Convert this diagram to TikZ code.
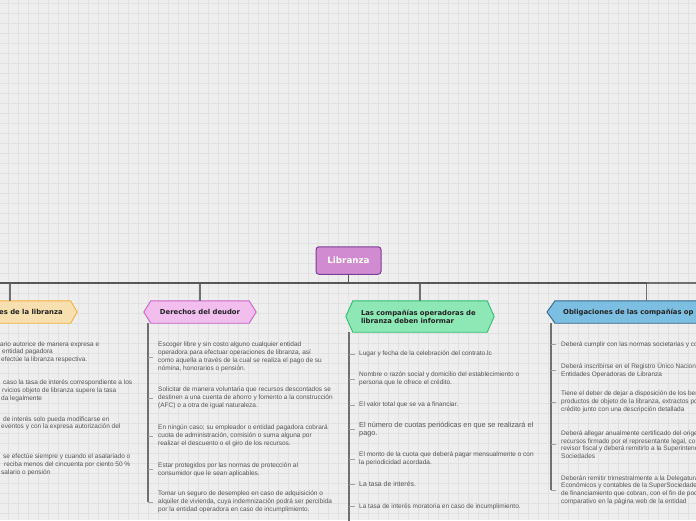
\documentclass[tikz,border=0pt]{standalone}
\usepackage{fontspec}
\setmainfont{Liberation Sans}
\newfontfamily\ttlfont{DejaVu Sans}
\usetikzlibrary{backgrounds}
\definecolor{bgc}{HTML}{EEEEEE}
\definecolor{gridc}{HTML}{E1E1E1}
\definecolor{txt}{HTML}{555555}
\definecolor{ttl}{HTML}{222222}
\definecolor{linec}{HTML}{585858}
\definecolor{branchc}{HTML}{707070}
\definecolor{tickc}{HTML}{A0A0A0}
\definecolor{libfill}{HTML}{D18BD0}
\definecolor{libdraw}{HTML}{7A3D97}
\definecolor{orfill}{HTML}{F8DFB0}
\definecolor{ordraw}{HTML}{F2B33D}
\definecolor{pkfill}{HTML}{F1BEEE}
\definecolor{pkdraw}{HTML}{C865C6}
\definecolor{gnfill}{HTML}{8EE8B6}
\definecolor{gndraw}{HTML}{2DBE6E}
\definecolor{blfill}{HTML}{7DBFE2}
\definecolor{bldraw}{HTML}{33668C}
\newcommand\hexfill[5]{%
  \begin{scope}[on background layer]
    \filldraw[fill=#2,draw=#3,line width=0.9pt]
      (#1.west) -- ([xshift=#4]#1.north west) -- ([xshift=-#5]#1.north east)
      -- (#1.east) -- ([xshift=-#5]#1.south east) -- ([xshift=#4]#1.south west) -- cycle;
  \end{scope}}
\begin{document}
\begin{tikzpicture}[x=1pt,y=-1pt,
  item/.style={font=\fontsize{6.5}{7.8}\selectfont, text=txt, align=left, anchor=west, inner sep=0pt},
  ttltext/.style={font=\ttlfont\bfseries\fontsize{6.85}{8}\selectfont, text=ttl},
  hexnode/.style={minimum height=22pt, inner sep=0pt, ttltext},
  mainline/.style={draw=linec, line width=1.8pt},
  branch/.style={draw=branchc, line width=1.5pt},
  bracket/.style={draw=branchc, line width=1.6pt},
  tickl/.style={draw=tickc, line width=0.9pt}]
\useasboundingbox (0,0) rectangle (696,520);
\begin{scope}[on background layer]
  \fill[bgc] (0,0) rectangle (696,520);
  \foreach \x in {8,18,...,698} \draw[gridc,line width=0.8pt] (\x,0) -- (\x,520);
  \foreach \y in {3,13,...,523} \draw[gridc,line width=0.8pt] (0,\y) -- (696,\y);
\end{scope}
\clip (0,0) rectangle (696,520);

% central node
\node[draw=libdraw, fill=libfill, line width=1pt, rounded corners=3pt,
      minimum width=65pt, minimum height=27.5pt, inner sep=0pt, text=white,
      font=\ttlfont\bfseries\fontsize{8.75}{10}\selectfont] (lib) at (348.5,260.5) {Libranza};

% branch boxes
\node[hexnode, minimum width=134pt] (cond) at (10,312) {};
\node[ttltext, anchor=west, inner sep=0pt] (condt) at (-1,312) {es de la libranza};
\hexfill{cond}{orfill}{ordraw}{7pt}{6.5pt}

\node[hexnode, minimum width=112pt] (deudor) at (200,312) {Derechos del deudor};
\hexfill{deudor}{pkfill}{pkdraw}{7pt}{7pt}

\node[hexnode, minimum height=31pt, text width=118pt, align=left, inner xsep=15pt]
  (inform) at (420,316.5) {Las compañías operadoras de\\libranza deben informar};
\hexfill{inform}{gnfill}{gndraw}{7pt}{7pt}

\node[hexnode, anchor=west, text width=188pt, align=left, inner xsep=16pt]
  (oblig) at (547,312) {Obligaciones de las compañías op};
\hexfill{oblig}{blfill}{bldraw}{8pt}{8pt}

% main connectors
\coordinate (hl) at (0,283);
\coordinate (hr) at (646.5,283);
\coordinate (hrr) at (696,283);
\draw[branch] (cond.north |- hl) -- (cond.north);
\draw[branch] (deudor.north |- hl) -- (deudor.north);
\draw[branch] (inform.north |- hl) -- (inform.north);
\draw[branch] (hr) -- (oblig.north -| hr);
\draw[draw=branchc, line width=1.5pt] (hr) -- (hrr);
\draw[mainline] (hl) -- (hr);
\draw[mainline] (lib.south) -- (lib.south |- hl);

% column 1
\node[item] (c1) at (0,352.3) {ario autorice de manera expresa e\\\hspace*{2pt}entidad pagadora\\\hspace*{1pt}efectúe la libranza respectiva.};
\node[item] (c2) at (0,390.7) {\hspace*{3pt}caso la tasa de interés correspondiente a los\\\hspace*{2pt}rvicios objeto de libranza supere la tasa\\\hspace*{1pt}da legalmente};
\node[item] (c3) at (0,423.3) {\hspace*{3pt}de interés solo pueda modificarse en\\\hspace*{1pt}eventos y con la expresa autorización del};
\node[item] (c4) at (0,465) {\hspace*{3pt}se efectúe siempre y cuando el asalariado o\\\hspace*{4pt}reciba menos del cincuenta por ciento 50 \%\\\hspace*{1pt}salario o pensión};

% column 2
\coordinate (b2) at (148,0);
\node[item] (d1) at (158,357) {Escoger libre y sin costo alguno cualquier entidad\\operadora para efectuar operaciones de libranza, así\\como aquella a través de la cual se realiza el pago de su\\nómina, honorarios o pensión.};
\node[item] (d2) at (158,398) {Solicitar de manera voluntaria que recursos descontados se\\destinen a una cuenta de ahorro y fomento a la construcción\\(AFC) o a otra de igual naturaleza.};
\node[item] (d3) at (158,436) {En ningún caso; su empleador o entidad pagadora cobrará\\cuota de administración, comisión o suma alguna por\\realizar el descuento o el giro de los recursos.};
\node[item] (d4) at (158,469.5) {Estar protegidos por las normas de protección al\\consumidor que le sean aplicables.};
\node[item] (d5) at (158,502) {Tomar un seguro de desempleo en caso de adquisición o\\alquiler de vivienda, cuya indemnización podrá ser percibida\\por la entidad operadora en caso de incumplimiento.};
\draw[bracket] (deudor.south -| b2) -- (d5.west -| b2);
\foreach \n in {d1,d2,d3,d4,d5} \draw[tickl] (\n.west -| b2) -- ([xshift=-5pt]\n.west);

% column 3
\coordinate (b3) at (349,0);
\coordinate (b3end) at (349,525);
\node[item] (f1) at (359,354) {Lugar y fecha de la celebración del contrato.lc};
\node[item] (f2) at (359,379) {Nombre o razón social y domicilio del establecimiento o\\persona que le ofrece el crédito.};
\node[item] (f3) at (359,405) {El valor total que se va a financiar.};
\node[item, font=\fontsize{7.3}{7.7}\selectfont] (f4) at (359,429.5) {El número de cuotas periódicas en que se realizará el\\pago.};
\node[item] (f5) at (359,459) {El monto de la cuota que deberá pagar mensualmente o con\\la periodicidad acordada.};
\node[item, font=\fontsize{6.9}{7.8}\selectfont] (f6) at (359,484.3) {La tasa de interés.};
\node[item] (f7) at (359,506.7) {La tasa de interés moratoria en caso de incumplimiento.};
\draw[bracket] (inform.south -| b3) -- (b3end);
\foreach \n in {f1,f2,f3,f4,f5,f6,f7} \draw[tickl] (\n.west -| b3) -- ([xshift=-4pt]\n.west);

% column 4
\coordinate (b4) at (551,0);
\node[item] (g1) at (561,344.5) {Deberá cumplir con las normas societarias y co};
\node[item] (g2) at (561,370.5) {Deberá inscribirse en el Registro Único Nacion\\Entidades Operadoras de Libranza};
\node[item] (g3) at (561,402) {Tiene el deber de dejar a disposición de los ben\\productos de objeto de la libranza, extractos po\\crédito junto con una descripción detallada};
\node[item] (g4) at (561,444.7) {Deberá allegar anualmente certificado del orige\\recursos firmado por el representante legal, con\\revisor fiscal y deberá remitirlo a la Superintend\\Sociedades};
\node[item] (g5) at (561,490) {Deberán remitir trimestralmente a la Delegatura\\Económicos y contables de la SuperSociedade\\de financiamiento que cobran, con el fin de poc\\comparativo en la página web de la entidad};
\draw[bracket] (oblig.south -| b4) -- (g5.west -| b4);
\foreach \n in {g1,g2,g3,g4,g5} \draw[tickl] (\n.west -| b4) -- ([xshift=-5pt]\n.west);
\end{tikzpicture}
\end{document}
